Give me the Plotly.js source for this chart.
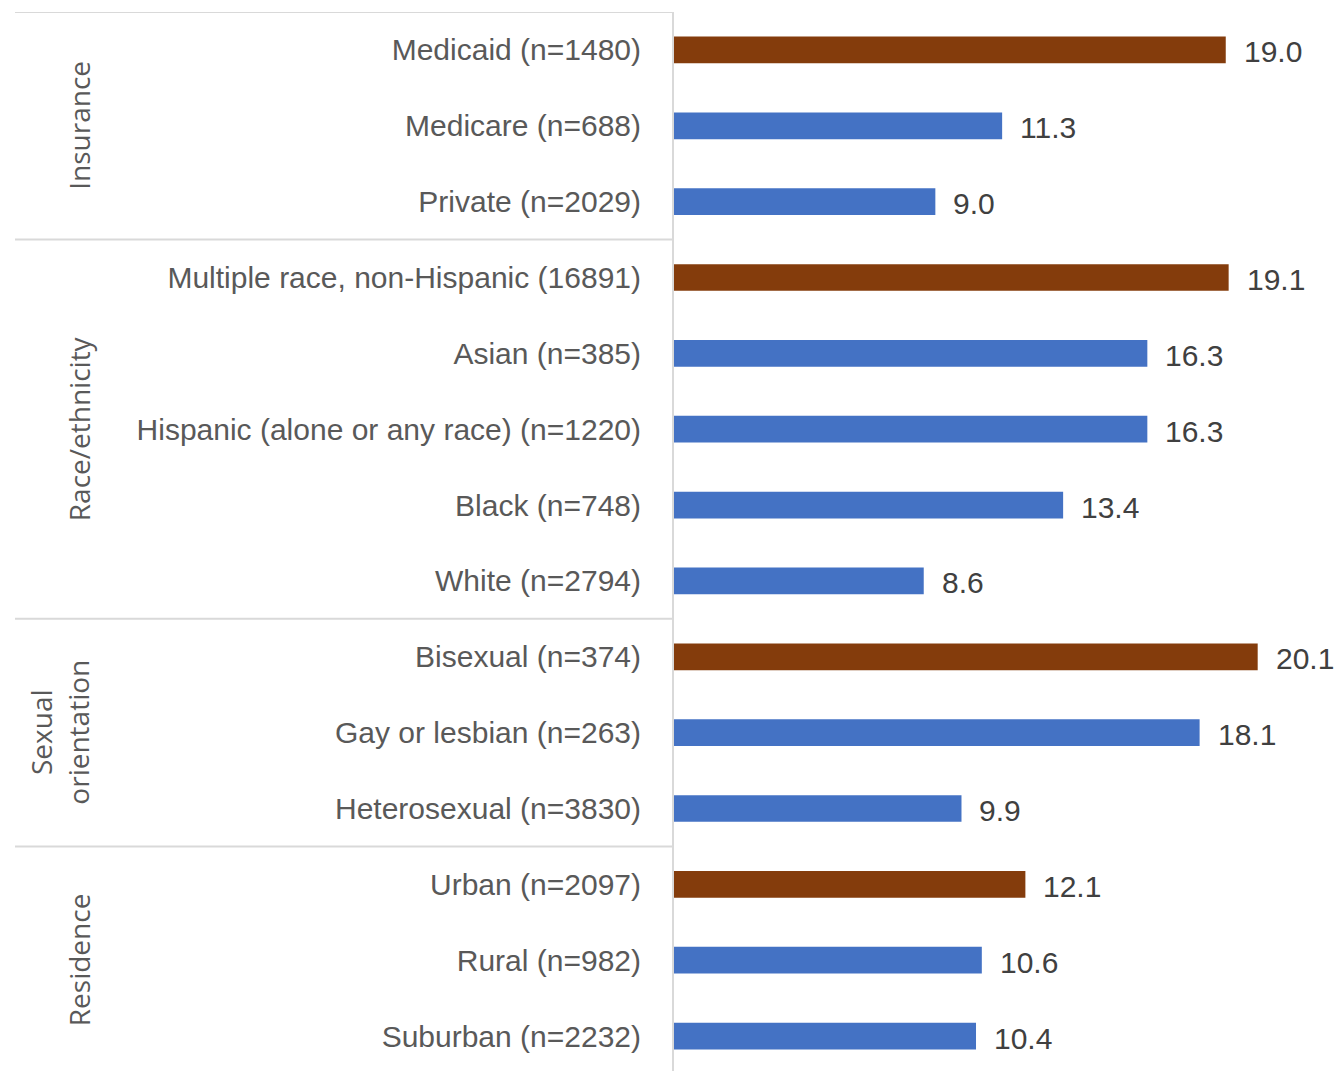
<!DOCTYPE html>
<html>
<head>
<meta charset="utf-8">
<script src="https://cdn.plot.ly/plotly-3.0.1.min.js"></script>
<style>
html,body{margin:0;padding:0;overflow:hidden;background:#fff;}
#chart{width:1339px;height:1075px;}
</style>
</head>
<body>
<div id="chart"></div>
<script>
// ---- data ----
const groups = ["Insurance", "Race/ethnicity", "Sexual<br>orientation", "Residence"];
const categories = [
  "Medicaid (n=1480)", "Medicare (n=688)", "Private (n=2029)",
  "Multiple race, non-Hispanic (16891)", "Asian (n=385)", "Hispanic (alone or any race) (n=1220)", "Black (n=748)", "White (n=2794)",
  "Bisexual (n=374)", "Gay or lesbian (n=263)", "Heterosexual (n=3830)",
  "Urban (n=2097)", "Rural (n=982)", "Suburban (n=2232)"
];
const categoryGroup = [0,0,0, 1,1,1,1,1, 2,2,2, 3,3,3];
const values = [19.0, 11.3, 9.0, 19.1, 16.3, 16.3, 13.4, 8.6, 20.1, 18.1, 9.9, 12.1, 10.6, 10.4];

// ---- styling ----
const BROWN = "#843C0C", BLUE = "#4472C4";
const colors = categories.map((c, i) => (i === 0 || categoryGroup[i] !== categoryGroup[i-1]) ? BROWN : BLUE);

const trace = {
  type: "bar",
  orientation: "h",
  x: values,
  y: categories,
  width: 0.352,
  marker: {color: colors, line: {width: 0}},
  hoverinfo: "skip",
  cliponaxis: false
};

const annotations = [];
values.forEach((v, i) => {
  annotations.push({
    x: v, y: categories[i], xref: "x", yref: "y",
    text: v.toFixed(1), showarrow: false,
    xanchor: "left", yanchor: "middle", xshift: 16, yshift: -2,
    font: {family: "Liberation Sans, Arial, sans-serif", size: 30, color: "#404040"}
  });
});

const shapes = [];
const sepColor = "#d9d9d9";
const leftPaper = (15 - 674) / 665;
shapes.push({type: "line", xref: "paper", yref: "y", x0: leftPaper, x1: 0, y0: -0.5, y1: -0.5, line: {color: sepColor, width: 2}});
groups.forEach((g, gi) => {
  const idx = categoryGroup.map((cg, i) => cg === gi ? i : -1).filter(i => i >= 0);
  const first = idx[0], last = idx[idx.length - 1];
  const center = (first + last) / 2;
  annotations.push({
    x: g.indexOf("<br>") >= 0 ? (59 - 674) / 665 : (79 - 674) / 665,
    y: center, xref: "paper", yref: "y",
    text: g, showarrow: false, textangle: -90,
    xanchor: "center", yanchor: "middle",
    font: {family: "Open Sans, sans-serif", size: 28, color: "#595959"}
  });
  if (gi < groups.length - 1) {
    shapes.push({type: "line", xref: "paper", yref: "y", x0: leftPaper, x1: 0, y0: last + 0.5, y1: last + 0.5, line: {color: sepColor, width: 2}});
  }
});

const layout = {
  width: 1339, height: 1075,
  margin: {l: 674, r: 0, t: 12, b: 1, pad: 0},
  paper_bgcolor: "#ffffff", plot_bgcolor: "#ffffff",
  showlegend: false,
  xaxis: {range: [0, 22.9], showgrid: false, zeroline: false, showticklabels: false, showline: false, fixedrange: true},
  yaxis: {
    type: "category", categoryorder: "array", categoryarray: categories,
    range: [13.5, -0.5], showgrid: false, zeroline: false,
    showline: true, linecolor: sepColor, linewidth: 2,
    ticks: "", ticklabelstandoff: 25,
    tickfont: {family: "Liberation Sans, Arial, sans-serif", size: 30, color: "#595959"},
    fixedrange: true
  },
  shapes: shapes,
  annotations: annotations
};

Plotly.newPlot("chart", [trace], layout, {staticPlot: true, displayModeBar: false});
</script>
</body>
</html>
